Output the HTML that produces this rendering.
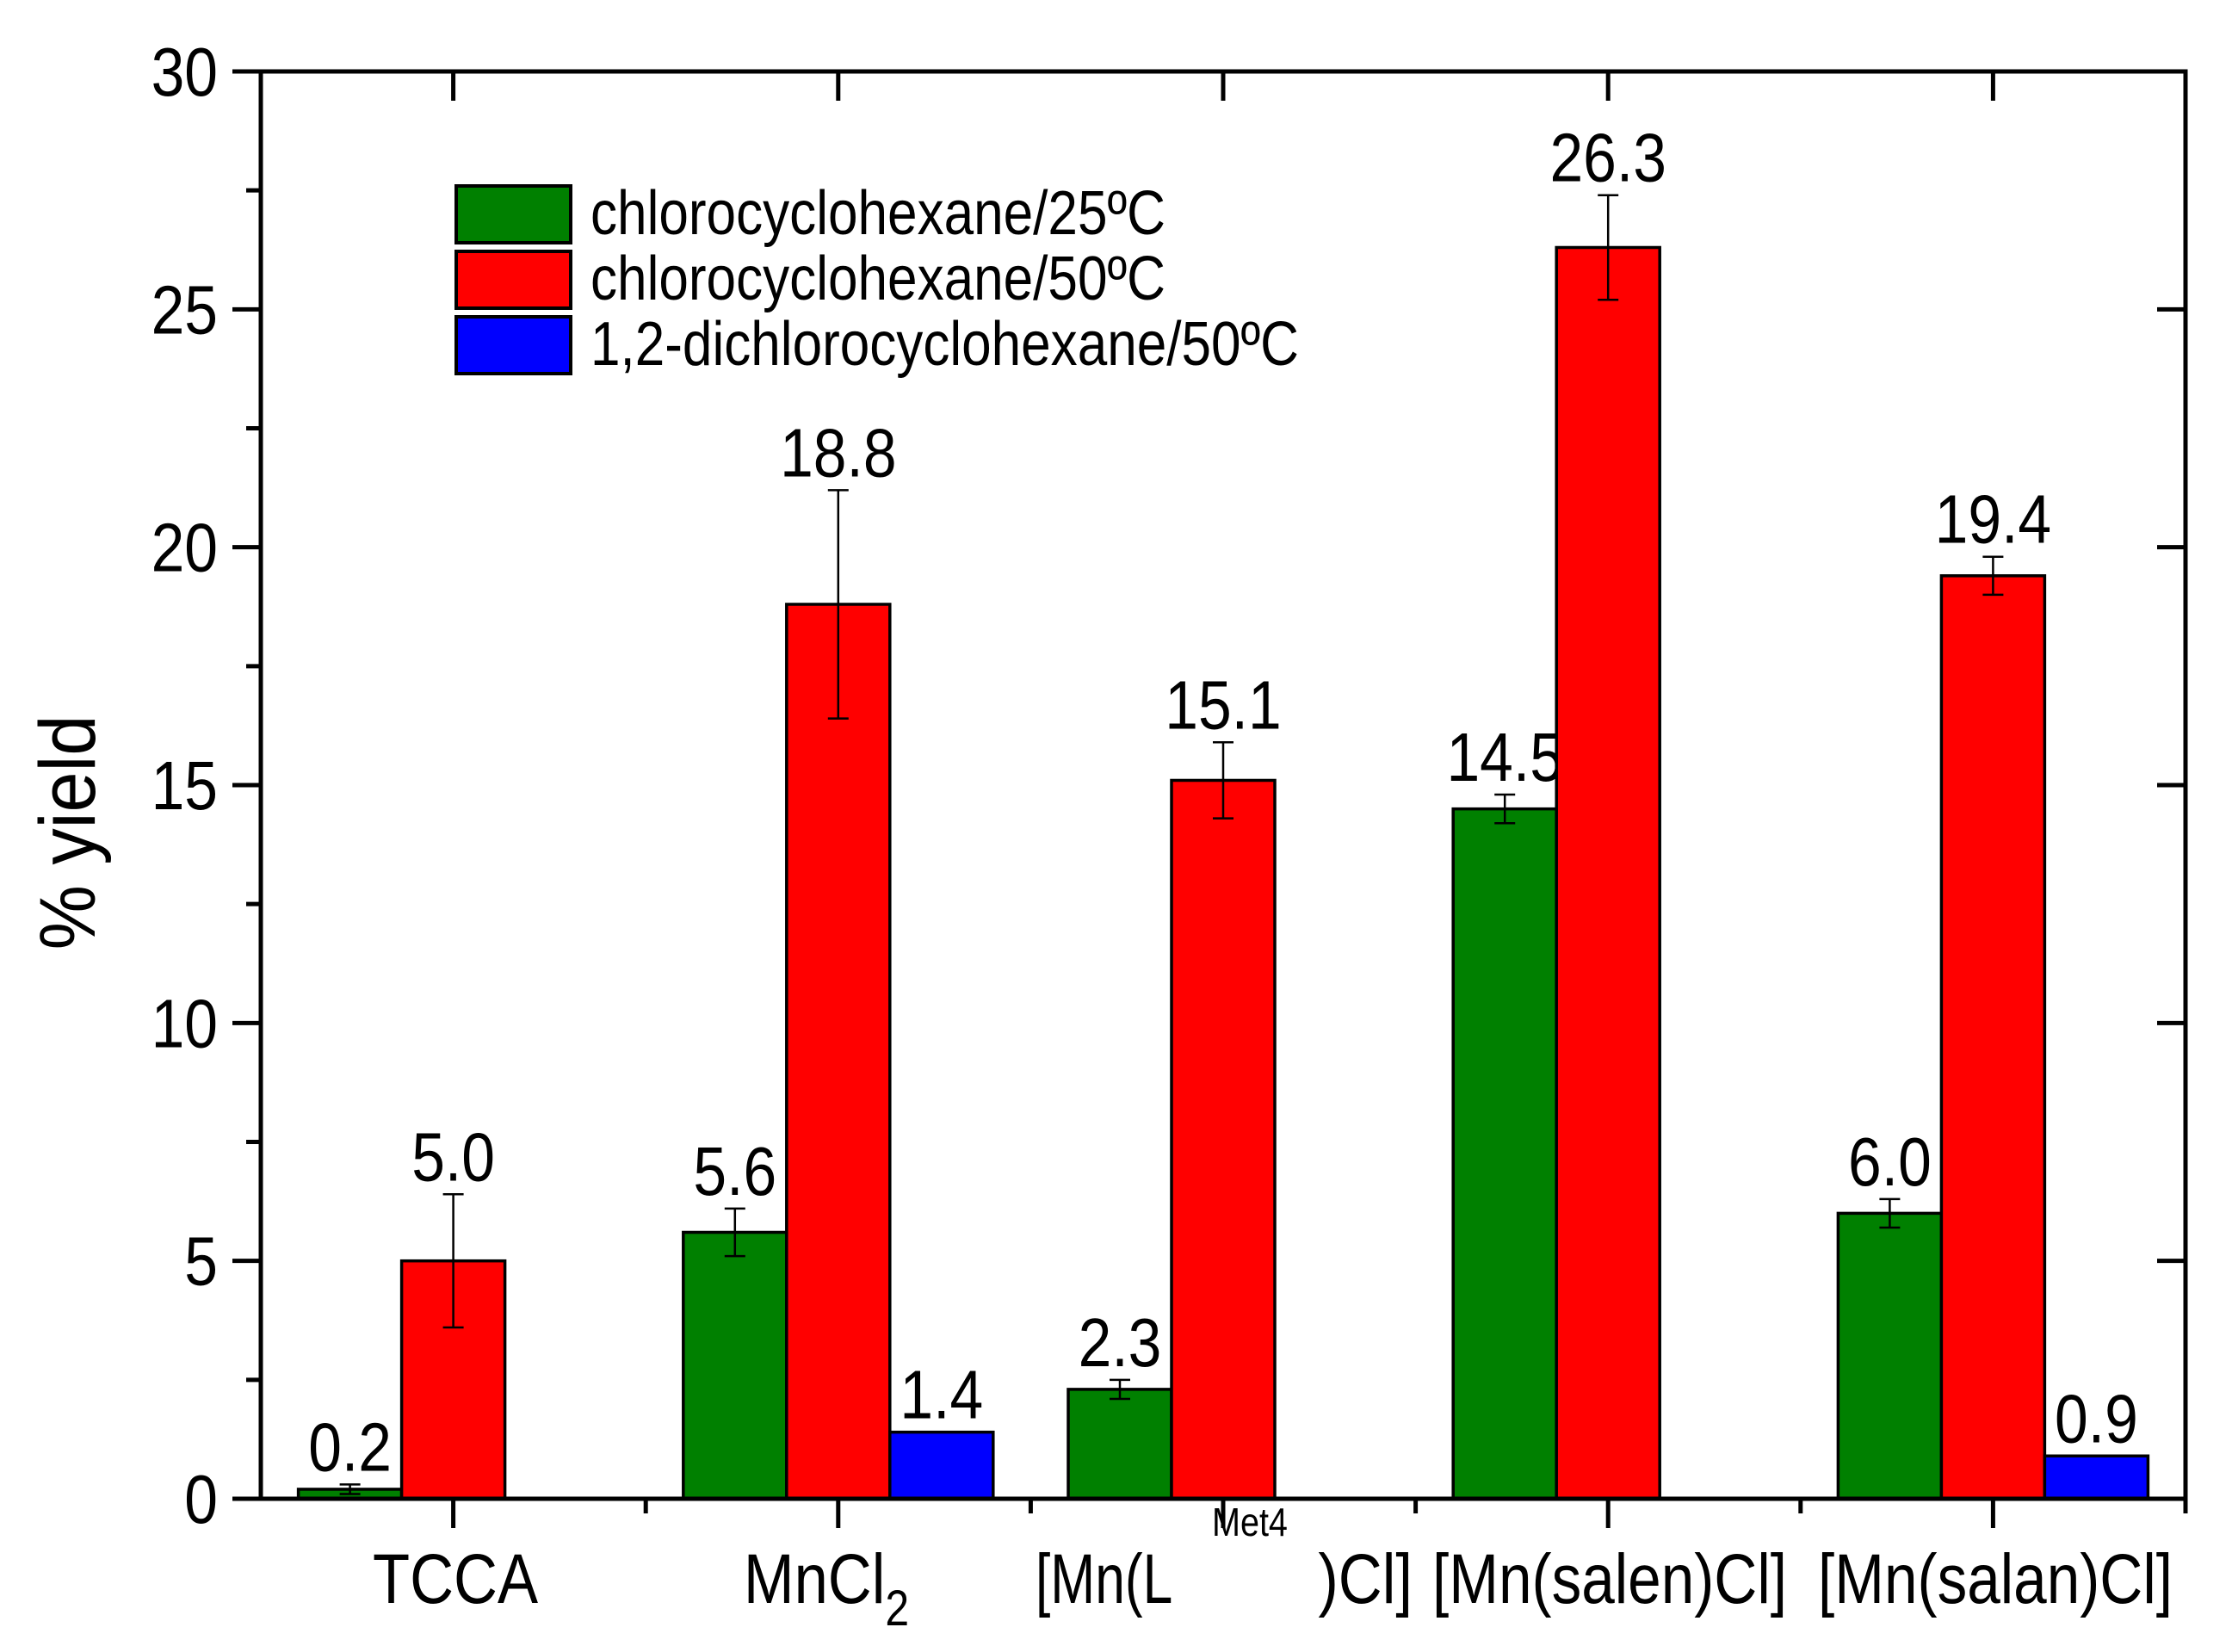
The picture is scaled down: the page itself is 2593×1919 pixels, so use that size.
<!DOCTYPE html>
<html><head><meta charset="utf-8"><style>
html,body{margin:0;padding:0;background:#fff}
svg{display:block}
text{font-family:"Liberation Sans",Arial,sans-serif;fill:#000}
</style></head><body>
<svg id="chart" width="2593" height="1919" viewBox="0 0 2593 1919" xmlns="http://www.w3.org/2000/svg">
<g id="plot"></g>
<g id="legend">
  <rect x="530" y="216" width="133" height="66" fill="#008000" stroke="#000" stroke-width="4"/>
  <text x="686" y="272" font-size="72" textLength="668" lengthAdjust="spacingAndGlyphs">chlorocyclohexane/25ºC</text>
  <rect x="530" y="292" width="133" height="66" fill="#ff0000" stroke="#000" stroke-width="4"/>
  <text x="686" y="348" font-size="72" textLength="668" lengthAdjust="spacingAndGlyphs">chlorocyclohexane/50ºC</text>
  <rect x="530" y="368" width="133" height="66" fill="#0000ff" stroke="#000" stroke-width="4"/>
  <text x="686" y="424" font-size="72" textLength="823" lengthAdjust="spacingAndGlyphs">1,2-dichlorocyclohexane/50ºC</text>
</g>
<text transform="translate(110,967) rotate(-90) scale(0.92,1)" text-anchor="middle" font-size="92">% yield</text>
<g font-size="82">
  <text transform="translate(529,1862) scale(0.86,1)" text-anchor="middle">TCCA</text>
  <text transform="translate(960,1862) scale(0.86,1)" text-anchor="middle">MnCl<tspan dy="26" font-size="58">2</tspan></text>
  <text transform="translate(1203,1862) scale(0.76,1)">[Mn(L</text>
  <text transform="translate(1408,1784) scale(0.86,1)" font-size="46">Met4</text>
  <text transform="translate(1641,1862) scale(0.86,1)" text-anchor="end">)Cl]</text>
  <text x="1870" y="1862" text-anchor="middle" textLength="412" lengthAdjust="spacingAndGlyphs">[Mn(salen)Cl]</text>
  <text x="2318" y="1862" text-anchor="middle" textLength="412" lengthAdjust="spacingAndGlyphs">[Mn(salan)Cl]</text>
</g>
<script>
const categories = ["TCCA","MnCl2","[Mn(LMet4)Cl]","[Mn(salen)Cl]","[Mn(salan)Cl]"];
const green = [0.2, 5.6, 2.3, 14.5, 6.0];
const greenErr = [0.1, 0.5, 0.2, 0.3, 0.3];
const red = [5.0, 18.8, 15.1, 26.3, 19.4];
const redErr = [1.4, 2.4, 0.8, 1.1, 0.4];
const blue = [null, 1.4, null, null, 0.9];
const yTicks = [0, 5, 10, 15, 20, 25, 30];

const NS = "http://www.w3.org/2000/svg";
const X0 = 303, X1 = 2539, Y0 = 1741, Y1 = 83;
const yMax = 30;
function y(v){ return Y0 - v / yMax * (Y0 - Y1); }
const step = (X1 - X0) / categories.length;
function xc(i){ return X0 + step * (i + 0.5); }
const BW = 120;
const plot = document.getElementById('plot');
function mk(tag, attrs){ const e = document.createElementNS(NS, tag); for (const k in attrs) e.setAttribute(k, attrs[k]); plot.appendChild(e); return e; }
function txt(x, yy, s, size, anchor){ const t = mk('text', {transform: `translate(${x},${yy}) scale(0.87,1)`, "text-anchor": anchor, "font-size": size}); t.textContent = s; return t; }

const series = [
  {vals: green, err: greenErr, color: "#008000", off: -1, name: "green"},
  {vals: red, err: redErr, color: "#ff0000", off: 0, name: "red"},
  {vals: blue, err: null, color: "#0000ff", off: 1, name: "blue"}
];
series.forEach(s => {
  s.vals.forEach((v, i) => {
    if (v === null) return;
    const cx = xc(i) + s.off * BW;
    const r = mk('rect', {x: cx - BW/2, y: y(v), width: BW, height: y(0) - y(v), fill: s.color, stroke: "#000", "stroke-width": 3.5});
    
    
    let top = v;
    if (s.err) {
      const e = s.err[i];
      top = v + e;
      const g = mk('path', {d: `M${cx},${y(v+e)}V${y(v-e)}M${cx-12},${y(v+e)}H${cx+12}M${cx-12},${y(v-e)}H${cx+12}`, stroke: "#000", "stroke-width": 2.5, fill: "none"});
      
      
    }
    const t = txt(cx, y(top) - 16, v.toFixed(1), 80, "middle");
    
    
  });
});

const frame = mk('rect', {x: X0, y: Y1, width: X1 - X0, height: Y0 - Y1, fill: "none", stroke: "#000", "stroke-width": 5});



yTicks.forEach(v => {
  const l = mk('line', {x1: X0 - 33, x2: X0, y1: y(v), y2: y(v), stroke: "#000", "stroke-width": 5});
  
  
  const r = mk('line', {x1: X1, x2: X1 - 33, y1: y(v), y2: y(v), stroke: "#000", "stroke-width": 5});
  
  
  const t = txt(X0 - 50, y(v) + 28, String(v), 80, "end");
  
  
  if (v < yMax) {
    const m = mk('line', {x1: X0 - 17, x2: X0, y1: y(v + 2.5), y2: y(v + 2.5), stroke: "#000", "stroke-width": 5});
    
    
  }
});
categories.forEach((c, i) => {
  const b = mk('line', {x1: xc(i), x2: xc(i), y1: Y0, y2: Y0 + 34, stroke: "#000", "stroke-width": 5});
  
  
  const t = mk('line', {x1: xc(i), x2: xc(i), y1: Y1, y2: Y1 + 34, stroke: "#000", "stroke-width": 5});
  
  
  const m = mk('line', {x1: X0 + step * (i + 1), x2: X0 + step * (i + 1), y1: Y0, y2: Y0 + 17, stroke: "#000", "stroke-width": 5});
  
  
});
</script>
</svg>
</body></html>
